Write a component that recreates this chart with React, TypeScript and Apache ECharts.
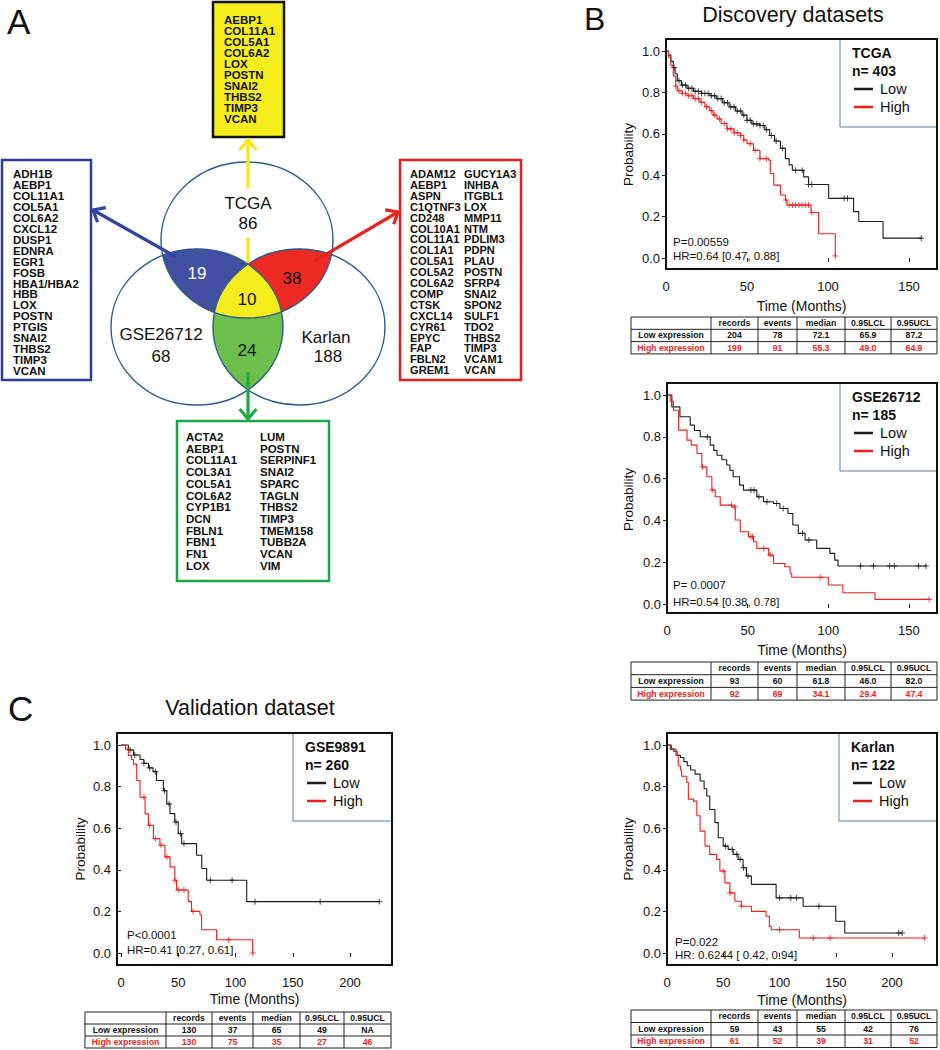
import React, { useEffect, useRef } from "react";
import * as echarts from "echarts";

const FF = 'Arial, "Liberation Sans", Helvetica, sans-serif';

// ---------------- Panel A data ----------------
const vennSetNames = ["TCGA", "GSE26712", "Karlan"];
const vennOnlyCounts = ["86", "68", "188"];
const vennOverlapCounts = ["19", "38", "24", "10"]; // TCGA∩GSE, TCGA∩Karlan, GSE∩Karlan, all
const allThreeGenes = ["AEBP1", "COL11A1", "COL5A1", "COL6A2", "LOX", "POSTN", "SNAI2", "THBS2", "TIMP3", "VCAN"];
const tcgaGseGenes = ["ADH1B", "AEBP1", "COL11A1", "COL5A1", "COL6A2", "CXCL12", "DUSP1", "EDNRA", "EGR1", "FOSB", "HBA1/HBA2", "HBB", "LOX", "POSTN", "PTGIS", "SNAI2", "THBS2", "TIMP3", "VCAN"];
const tcgaKarlanGenes1 = ["ADAM12", "AEBP1", "ASPN", "C1QTNF3", "CD248", "COL10A1", "COL11A1", "COL1A1", "COL5A1", "COL5A2", "COL6A2", "COMP", "CTSK", "CXCL14", "CYR61", "EPYC", "FAP", "FBLN2", "GREM1"];
const tcgaKarlanGenes2 = ["GUCY1A3", "INHBA", "ITGBL1", "LOX", "MMP11", "NTM", "PDLIM3", "PDPN", "PLAU", "POSTN", "SFRP4", "SNAI2", "SPON2", "SULF1", "TDO2", "THBS2", "TIMP3", "VCAM1", "VCAN"];
const gseKarlanGenes1 = ["ACTA2", "AEBP1", "COL11A1", "COL3A1", "COL5A1", "COL6A2", "CYP1B1", "DCN", "FBLN1", "FBN1", "FN1", "LOX"];
const gseKarlanGenes2 = ["LUM", "POSTN", "SERPINF1", "SNAI2", "SPARC", "TAGLN", "THBS2", "TIMP3", "TMEM158", "TUBB2A", "VCAN", "VIM"];

// ---------------- KM curves: [months, survival] ----------------
const tcgaLow = [[0,1],[1.5,0.98],[3,0.95],[4.5,0.92],[5.6,0.89],[7,0.856],[9.5,0.835],[13,0.82],[17,0.805],[22,0.795],[27,0.784],[31,0.77],[35,0.75],[39,0.73],[43,0.71],[47,0.69],[50,0.665],[53,0.648],[58,0.64],[61,0.62],[64,0.592],[67,0.565],[70.6,0.53],[73.7,0.48],[76,0.45],[78,0.424],[85,0.392],[88,0.355],[100.4,0.288],[115.8,0.224],[119,0.176],[134,0.096],[157.6,0.096]];
const tcgaHigh = [[0,1],[1.5,0.97],[3,0.93],[4.5,0.88],[6,0.83],[7,0.808],[10,0.795],[13,0.784],[17,0.77],[21,0.752],[24,0.73],[27,0.712],[29,0.69],[31.5,0.672],[34,0.65],[37.6,0.624],[42,0.605],[46,0.592],[48,0.57],[50,0.552],[54,0.52],[58,0.48],[63.4,0.472],[64.4,0.408],[66.5,0.352],[70.6,0.304],[73.7,0.28],[74.7,0.256],[89.5,0.22],[94.2,0.117],[104.5,0.01]];
const tcgaLowCens = [5,8,10,12,14,16,18,20,22,24,26,28,30,32,34,36,38,40,42,44,46,48,50,52,54,56,58,60,62,65,68,72,80,84,88,90,110,112,157.6];
const tcgaHighCens = [6,8,10,12,14,16,18,20,22,25,28,30,33,36,38,40,42,44,46,48,52,55,58,62,74,76,78,80,82,84,86,88,90,104.5];

const gseLow = [[0,1],[3,0.943],[8,0.896],[14.4,0.856],[17,0.83],[20.6,0.8],[26.8,0.76],[29,0.735],[31,0.712],[34,0.69],[37,0.665],[39,0.64],[41,0.609],[45,0.569],[47.4,0.545],[55.7,0.513],[59.8,0.489],[66,0.481],[70,0.457],[75,0.433],[78,0.378],[81.4,0.338],[85.6,0.306],[92.8,0.266],[101,0.242],[104,0.21],[106,0.182],[161,0.182]];
const gseHigh = [[0,1],[2,0.97],[4,0.927],[7.2,0.832],[12.4,0.784],[15,0.76],[18.6,0.72],[21.6,0.656],[24.7,0.609],[27.8,0.545],[29.9,0.513],[33,0.473],[40.2,0.465],[42.3,0.402],[45.4,0.346],[50.5,0.322],[53.6,0.298],[55.7,0.266],[63,0.234],[66,0.194],[73,0.178],[76.3,0.147],[77.3,0.128],[100,0.091],[109,0.054],[128.9,0.022],[162.5,0.022]];
const gseLowCens = [25,52,54,57,62,68,72,84,88,120,128,138,141,156,160.5];
const gseHighCens = [22,28,40,42,52,53,60,64,95,162.5];

const karlanLow = [[0,1],[3,0.98],[6,0.97],[9,0.95],[12,0.94],[15,0.92],[18,0.9],[21,0.88],[25,0.86],[29.4,0.827],[33,0.79],[35.3,0.755],[38,0.69],[42.6,0.627],[45.6,0.554],[50,0.514],[54.4,0.498],[58.8,0.474],[63.2,0.45],[67.6,0.41],[70.6,0.37],[75,0.33],[97,0.265],[121,0.225],[150,0.153],[158,0.096],[209,0.096]];
const karlanHigh = [[0,1],[4,0.98],[8,0.95],[10,0.9],[12,0.88],[13,0.85],[17.6,0.82],[19,0.74],[23.5,0.73],[26.5,0.66],[29.4,0.586],[33.8,0.514],[38,0.474],[44,0.45],[47,0.394],[51.5,0.337],[55.9,0.289],[60.3,0.249],[66,0.225],[75,0.2],[88,0.177],[91,0.128],[92.6,0.112],[117.6,0.072],[229,0.072]];
const karlanLowCens = [52,58,62,65,68,72,100,110,115,135,206,209];
const karlanHighCens = [50,56,66,100,130,145,229];

const gse9891Low = [[0,1],[6.4,0.976],[11,0.952],[16.6,0.93],[20,0.912],[24,0.89],[28,0.872],[31,0.829],[37,0.78],[40,0.717],[42.8,0.67],[47,0.63],[50,0.574],[53,0.526],[66,0.47],[70.5,0.406],[74.8,0.35],[109.8,0.247],[225.6,0.247]];
const gse9891High = [[0,1],[4,0.98],[6.4,0.95],[9,0.93],[10.8,0.908],[13.7,0.829],[16.6,0.749],[21,0.669],[24,0.614],[28.3,0.55],[34,0.518],[38.4,0.462],[42.8,0.414],[47,0.35],[48.5,0.303],[58.7,0.247],[61.6,0.2],[69,0.183],[70.4,0.112],[83.5,0.064],[115,0]];
const gse9891LowCens = [8,12,20,25,30,38,42,48,52,55,78,97,117,174,225.6];
const gse9891HighCens = [20,25,30,35,40,47,50,55,63,94,115];

// ---------------- tables ----------------
const tableHeader = ["records", "events", "median", "0.95LCL", "0.95UCL"];
const tableRowNames = ["Low expression", "High expression"];
const tcgaTableLow = ["204", "78", "72.1", "65.9", "87.2"];
const tcgaTableHigh = ["199", "91", "55.3", "49.0", "64.9"];
const gseTableLow = ["93", "60", "61.8", "46.0", "82.0"];
const gseTableHigh = ["92", "69", "34.1", "29.4", "47.4"];
const karlanTableLow = ["59", "43", "55", "42", "76"];
const karlanTableHigh = ["61", "52", "39", "31", "52"];
const gse9891TableLow = ["130", "37", "65", "49", "NA"];
const gse9891TableHigh = ["130", "75", "35", "27", "46"];

const xTicksShort = [0, 50, 100, 150];
const xTicksLong = [0, 50, 100, 150, 200];
const yTicks = [0, 0.2, 0.4, 0.6, 0.8, 1.0];

const plotData = [
  { title: "TCGA", n: "n= 403", low: tcgaLow, high: tcgaHigh, lowC: tcgaLowCens, highC: tcgaHighCens, ticks: xTicksShort, p: "P=0.00559", hr: "HR=0.64 [0.47, 0.88]", tLow: tcgaTableLow, tHigh: tcgaTableHigh },
  { title: "GSE26712", n: "n= 185", low: gseLow, high: gseHigh, lowC: gseLowCens, highC: gseHighCens, ticks: xTicksShort, p: "P= 0.0007", hr: "HR=0.54 [0.38, 0.78]", tLow: gseTableLow, tHigh: gseTableHigh },
  { title: "Karlan", n: "n= 122", low: karlanLow, high: karlanHigh, lowC: karlanLowCens, highC: karlanHighCens, ticks: xTicksLong, p: "P=0.022", hr: "HR: 0.6244 [ 0.42, 0.94]", tLow: karlanTableLow, tHigh: karlanTableHigh },
  { title: "GSE9891", n: "n= 260", low: gse9891Low, high: gse9891High, lowC: gse9891LowCens, highC: gse9891HighCens, ticks: xTicksLong, p: "P<0.0001", hr: "HR=0.41 [0.27, 0.61]", tLow: gse9891TableLow, tHigh: gse9891TableHigh },
];

// layout (pixels)
const colsB = [631, 711, 758, 797, 845, 891, 937];
const colsC = [85, 166, 212, 253, 300, 344, 391];
const plotLayout = [
  { box: [666, 39, 937, 269], x0: 666, y1: 51, y0: 258, pxPerMonth: 1.62, legL: 840, pX: 673, pY: 242, hrY: 256, probX: 628, timeY: 306, tabTop: 317, rowH: 12.3, cols: colsB },
  { box: [667, 383, 937, 613], x0: 667, y1: 395, y0: 604, pxPerMonth: 1.613, legL: 840, pX: 673, pY: 585, hrY: 602, probX: 628, timeY: 650, tabTop: 662, rowH: 12.7, cols: colsB },
  { box: [667, 733, 937, 965], x0: 667, y1: 745, y0: 953, pxPerMonth: 1.125, legL: 839, pX: 675, pY: 942, hrY: 955, probX: 628, timeY: 1000, tabTop: 1010, rowH: 12.5, cols: colsB },
  { box: [117, 733, 392, 965], x0: 121, y1: 745, y0: 953, pxPerMonth: 1.145, legL: 293, pX: 127, pY: 935, hrY: 950, probX: 80, timeY: 999, tabTop: 1012, rowH: 12, cols: colsC },
];

const LOW_COLOR = "#1c1c1c";
const HIGH_COLOR = "#f01e1e";
const PLUS = "path://M0,5L10,5M5,0L5,10";

function survAt(curve: number[][], t: number) {
  let s = curve[0][1];
  for (const [ti, si] of curve) {
    if (ti <= t + 1e-9) s = si;
    else break;
  }
  return s;
}

function txt(x: number, y: number, text: string, size: number, o: any = {}) {
  const align = o.align ?? "left";
  const valign = o.valign ?? "middle";
  return {
    type: "text",
    x,
    y,
    z: o.z ?? 20,
    rotation: o.rotation ?? 0,
    silent: true,
    style: {
      text,
      font: `${o.bold ? "bold " : ""}${size}px ${FF}`,
      fill: o.color ?? "#111",
      textAlign: align,
      textVerticalAlign: valign,
      align,
      verticalAlign: valign,
    },
  };
}
function ln(x1: number, y1: number, x2: number, y2: number, color: string, w: number, z = 15) {
  return { type: "line", z, silent: true, shape: { x1, y1, x2, y2 }, style: { stroke: color, lineWidth: w } };
}
function rc(x: number, y: number, w: number, h: number, style: any, z = 5) {
  return { type: "rect", z, silent: true, shape: { x, y, width: w, height: h }, style };
}
function arrow(x1: number, y1: number, x2: number, y2: number, color: string) {
  const ang = Math.atan2(y2 - y1, x2 - x1);
  const L = 13, a = (40 * Math.PI) / 180;
  const p1 = [x2 - L * Math.cos(ang - a), y2 - L * Math.sin(ang - a)];
  const p2 = [x2 - L * Math.cos(ang + a), y2 - L * Math.sin(ang + a)];
  return [
    ln(x1, y1, x2, y2, color, 3.2, 16),
    { type: "polyline", z: 16, silent: true, shape: { points: [p1, [x2, y2], p2] }, style: { stroke: color, lineWidth: 3.2, fill: null } },
  ];
}

type Ell = { cx: number; cy: number; rx: number; ry: number };
function inside(e: Ell, x: number, y: number) {
  const a = (x - e.cx) / e.rx, b = (y - e.cy) / e.ry;
  return a * a + b * b < 1;
}
function regionPoints(inc: Ell[], exc: Ell[]) {
  const pts: number[][] = [];
  const N = 1440;
  for (const e of [...inc, ...exc]) {
    for (let i = 0; i < N; i++) {
      const t = (i / N) * Math.PI * 2;
      const x = e.cx + e.rx * Math.cos(t), y = e.cy + e.ry * Math.sin(t);
      if (inc.every((f) => f === e || inside(f, x, y)) && exc.every((f) => f === e || !inside(f, x, y))) pts.push([x, y]);
    }
  }
  let cx = 0, cy = 0;
  pts.forEach((p) => { cx += p[0]; cy += p[1]; });
  cx /= pts.length; cy /= pts.length;
  pts.sort((p, q) => Math.atan2(p[1] - cy, p[0] - cx) - Math.atan2(q[1] - cy, q[0] - cx));
  return pts;
}

function buildGraphics() {
  const els: any[] = [];
  // panel letters and titles
  els.push(txt(7, 21, "A", 35, { valign: "middle" }));
  els.push(txt(584, 19, "B", 32, { valign: "middle" }));
  els.push(txt(8, 708, "C", 35, { valign: "middle" }));
  els.push(txt(793, 15, "Discovery datasets", 21.5, { align: "center" }));
  els.push(txt(250, 708, "Validation dataset", 21.5, { align: "center" }));

  // ---- Venn ----
  const ET: Ell = { cx: 247, cy: 240, rx: 86, ry: 78 };
  const EL: Ell = { cx: 197, cy: 327, rx: 86, ry: 78 };
  const ER: Ell = { cx: 299, cy: 327, rx: 86, ry: 78 };
  const regions = [
    { inc: [ET, EL], exc: [ER], fill: "#4250a2" },
    { inc: [ET, ER], exc: [EL], fill: "#ec2922" },
    { inc: [EL, ER], exc: [ET], fill: "#6cbf4a" },
    { inc: [ET, EL, ER], exc: [], fill: "#f4ec1d" },
  ];
  regions.forEach((r) => {
    els.push({ type: "polygon", z: 8, silent: true, shape: { points: regionPoints(r.inc, r.exc) }, style: { fill: r.fill, stroke: r.fill, lineWidth: 0.5 } });
  });
  [ET, EL, ER].forEach((e) => {
    els.push({ type: "ellipse", z: 9, silent: true, shape: { cx: e.cx, cy: e.cy, rx: e.rx, ry: e.ry }, style: { fill: null, stroke: "#2c5b8e", lineWidth: 1.4 } });
  });
  els.push(txt(248, 203, vennSetNames[0], 17, { align: "center" }));
  els.push(txt(248, 223, vennOnlyCounts[0], 17, { align: "center" }));
  els.push(txt(161, 334, vennSetNames[1], 17, { align: "center" }));
  els.push(txt(161, 356, vennOnlyCounts[1], 17, { align: "center" }));
  els.push(txt(326, 337, vennSetNames[2], 17, { align: "center" }));
  els.push(txt(328, 356, vennOnlyCounts[2], 17, { align: "center" }));
  els.push(txt(197, 273, vennOverlapCounts[0], 17, { align: "center", color: "#fff" }));
  els.push(txt(292, 278, vennOverlapCounts[1], 17, { align: "center" }));
  els.push(txt(247, 350, vennOverlapCounts[2], 17, { align: "center" }));
  els.push(txt(247, 299, vennOverlapCounts[3], 17, { align: "center" }));

  // arrows
  els.push(...arrow(176, 257, 93, 210, "#3344a0"));
  els.push(...arrow(313, 262, 398, 212, "#e8221f"));
  els.push(ln(248, 263, 248, 238, "#f4ea12", 3.2, 16));
  els.push(...arrow(248, 188, 248, 140, "#f4ea12"));
  els.push(...arrow(248, 372, 248, 419, "#22aa44"));

  // gene boxes
  els.push(rc(213, 2, 71, 135, { fill: "#f6ee1c", stroke: "#111", lineWidth: 2.5 }));
  allThreeGenes.forEach((g, i) => els.push(txt(224, 20 + i * 11, g, 11.5, { bold: true })));
  els.push(rc(2, 160, 89, 220, { fill: "#fff", stroke: "#2d3d99", lineWidth: 2.5 }));
  tcgaGseGenes.forEach((g, i) => els.push(txt(13, 174 + i * 10.95, g, 11.5, { bold: true })));
  els.push(rc(400, 160, 121, 220, { fill: "#fff", stroke: "#e41f1f", lineWidth: 2.5 }));
  tcgaKarlanGenes1.forEach((g, i) => els.push(txt(410, 174 + i * 10.9, g, 11.1, { bold: true })));
  tcgaKarlanGenes2.forEach((g, i) => els.push(txt(464, 174 + i * 10.9, g, 11.1, { bold: true })));
  els.push(rc(177, 421, 152, 160, { fill: "#fff", stroke: "#1aa64a", lineWidth: 2.5 }));
  gseKarlanGenes1.forEach((g, i) => els.push(txt(186, 437 + i * 11.7, g, 11.5, { bold: true })));
  gseKarlanGenes2.forEach((g, i) => els.push(txt(260, 437 + i * 11.7, g, 11.5, { bold: true })));

  // ---- KM decorations ----
  plotData.forEach((d, i) => {
    const L = plotLayout[i];
    const [bx0, by0, bx1, by1] = L.box;
    // legend box
    els.push(rc(L.legL, by0, bx1 - L.legL, 88, { fill: "#fff", stroke: "#5a7bb0", lineWidth: 1 }, 4));
    els.push(txt(L.legL + 12, by0 + 14, d.title, 14, { bold: true }));
    els.push(txt(L.legL + 12, by0 + 32, d.n, 14, { bold: true }));
    els.push(ln(L.legL + 14, by0 + 50, L.legL + 33, by0 + 50, LOW_COLOR, 2.5));
    els.push(txt(L.legL + 40, by0 + 50, "Low", 14.5));
    els.push(ln(L.legL + 14, by0 + 68, L.legL + 33, by0 + 68, HIGH_COLOR, 2.5));
    els.push(txt(L.legL + 40, by0 + 68, "High", 14.5));
    // frame
    els.push(rc(bx0, by0, bx1 - bx0, by1 - by0, { fill: null, stroke: "#111", lineWidth: 2 }, 6));
    // p / hr
    els.push(txt(L.pX, L.pY, d.p, 11.5));
    els.push(txt(L.pX, L.hrY, d.hr, 11.5));
    // axis names
    els.push(txt(L.probX, (L.y0 + L.y1) / 2, "Probability", 13.5, { align: "center", rotation: Math.PI / 2 }));
    els.push(txt((bx0 + bx1) / 2, L.timeY, "Time (Months)", 14, { align: "center" }));
    // table
    const cols = L.cols, top = L.tabTop, h = L.rowH;
    const left = cols[0], right = cols[cols.length - 1], bottom = top + 3 * h;
    els.push(rc(left, top, right - left, 3 * h, { fill: "#fff", stroke: "#222", lineWidth: 1 }, 5));
    for (let r = 1; r < 3; r++) els.push(ln(left, top + r * h, right, top + r * h, "#222", 1, 6));
    for (let c = 1; c < cols.length - 1; c++) els.push(ln(cols[c], top, cols[c], bottom, "#222", 1, 6));
    const fs = 8.7;
    tableHeader.forEach((hd, j) => els.push(txt((cols[j + 1] + cols[j + 2]) / 2, top + h / 2, hd, fs, { bold: true, align: "center" })));
    els.push(txt((cols[0] + cols[1]) / 2, top + 1.5 * h, tableRowNames[0], fs, { bold: true, align: "center" }));
    els.push(txt((cols[0] + cols[1]) / 2, top + 2.5 * h, tableRowNames[1], fs, { bold: true, align: "center", color: HIGH_COLOR }));
    d.tLow.forEach((v, j) => els.push(txt((cols[j + 1] + cols[j + 2]) / 2, top + 1.5 * h, v, fs, { bold: true, align: "center" })));
    d.tHigh.forEach((v, j) => els.push(txt((cols[j + 1] + cols[j + 2]) / 2, top + 2.5 * h, v, fs, { bold: true, align: "center", color: HIGH_COLOR })));
  });
  return els;
}

function buildOption() {
  const grid: any[] = [], xAxis: any[] = [], yAxis: any[] = [], series: any[] = [];
  plotData.forEach((d, i) => {
    const L = plotLayout[i];
    const [bx0, , bx1, by1] = L.box;
    const xmax = (bx1 - L.x0) / L.pxPerMonth;
    grid.push({ left: L.x0, top: L.y1, width: bx1 - L.x0, height: L.y0 - L.y1, containLabel: false });
    xAxis.push({
      type: "value", gridIndex: i, min: 0, max: xmax, interval: 50, offset: by1 - L.y0,
      axisLine: { show: false }, splitLine: { show: false },
      axisTick: { show: true, length: 4, customValues: d.ticks, lineStyle: { color: "#222", width: 1 } },
      axisLabel: { customValues: d.ticks, fontSize: 13, color: "#111", margin: 11, fontFamily: FF, formatter: (v: number) => (Math.abs(v % 50) < 1e-6 ? String(v) : "") },
    });
    yAxis.push({
      type: "value", gridIndex: i, min: 0, max: 1, interval: 0.2, offset: L.x0 - bx0,
      axisLine: { show: false }, splitLine: { show: false },
      axisTick: { show: true, length: 4, customValues: yTicks, lineStyle: { color: "#222", width: 1 } },
      axisLabel: { customValues: yTicks, fontSize: 13, color: "#111", margin: 6, fontFamily: FF, formatter: (v: number) => v.toFixed(1) },
    });
    const curves = [
      { data: d.low, cens: d.lowC, color: LOW_COLOR },
      { data: d.high, cens: d.highC, color: HIGH_COLOR },
    ];
    curves.forEach((c) => {
      series.push({
        type: "line", xAxisIndex: i, yAxisIndex: i, data: c.data, step: "end", showSymbol: false, symbol: "none",
        lineStyle: { color: c.color, width: 1.1 }, itemStyle: { color: c.color }, clip: false, silent: true, z: 3,
      });
      series.push({
        type: "scatter", xAxisIndex: i, yAxisIndex: i, data: c.cens.map((t) => [t, survAt(c.data, t)]),
        symbol: PLUS, symbolSize: 6, itemStyle: { color: "none", borderColor: c.color, borderWidth: 1 }, clip: false, silent: true, z: 4,
      });
    });
  });
  return {
    animation: false,
    backgroundColor: "#fff",
    grid, xAxis, yAxis, series,
    graphic: { elements: buildGraphics() },
  };
}

export default function App() {
  const ref = useRef<HTMLDivElement>(null);
  useEffect(() => {
    if (!ref.current) return;
    const chart = echarts.init(ref.current, null, { renderer: "svg" });
    chart.setOption(buildOption() as any);
    return () => chart.dispose();
  }, []);
  return <div ref={ref} style={{ position: "absolute", left: 0, top: 0, width: 940, height: 1050 }} />;
}
